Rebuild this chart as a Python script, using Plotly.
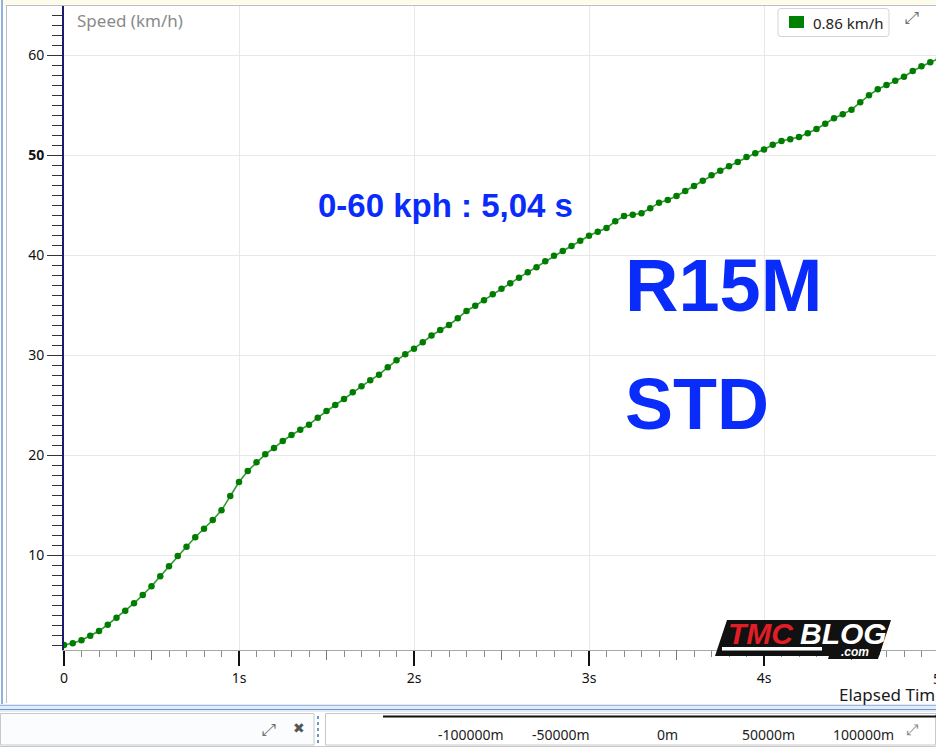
import plotly.graph_objects as go

# ---------------- data ----------------
time_s = [0.00, 0.05, 0.10, 0.15, 0.20, 0.25, 0.30, 0.35, 0.40, 0.45,
          0.50, 0.55, 0.60, 0.65, 0.70, 0.75, 0.80, 0.85, 0.90, 0.95,
          1.00, 1.05, 1.10, 1.15, 1.20, 1.25, 1.30, 1.35, 1.40, 1.45,
          1.50, 1.55, 1.60, 1.65, 1.70, 1.75, 1.80, 1.85, 1.90, 1.95,
          2.00, 2.05, 2.10, 2.15, 2.20, 2.25, 2.30, 2.35, 2.40, 2.45,
          2.50, 2.55, 2.60, 2.65, 2.70, 2.75, 2.80, 2.85, 2.90, 2.95,
          3.00, 3.05, 3.10, 3.15, 3.20, 3.25, 3.30, 3.35, 3.40, 3.45,
          3.50, 3.55, 3.60, 3.65, 3.70, 3.75, 3.80, 3.85, 3.90, 3.95,
          4.00, 4.05, 4.10, 4.15, 4.20, 4.25, 4.30, 4.35, 4.40, 4.45,
          4.50, 4.55, 4.60, 4.65, 4.70, 4.75, 4.80, 4.85, 4.90, 4.95,
          5.00]
speed_kmh = [1.00, 1.17, 1.47, 1.93, 2.40, 3.03, 3.73, 4.43, 5.17, 6.00,
             6.87, 7.87, 8.87, 9.90, 10.83, 11.77, 12.63, 13.50, 14.47, 15.90,
             17.30, 18.40, 19.27, 20.07, 20.70, 21.40, 22.00, 22.53, 23.03, 23.73,
             24.40, 25.00, 25.60, 26.27, 26.87, 27.47, 28.03, 28.77, 29.47, 30.07,
             30.63, 31.27, 31.95, 32.50, 33.00, 33.67, 34.40, 34.93, 35.47, 36.07,
             36.63, 37.17, 37.73, 38.27, 38.77, 39.37, 39.93, 40.40, 40.90, 41.43,
             41.92, 42.32, 42.70, 43.37, 43.90, 44.03, 44.17, 44.67, 45.23, 45.50,
             45.90, 46.40, 46.90, 47.43, 47.97, 48.43, 48.87, 49.30, 49.80, 50.17,
             50.55, 51.03, 51.40, 51.57, 51.80, 52.17, 52.60, 53.13, 53.67, 54.07,
             54.53, 55.27, 55.97, 56.57, 57.00, 57.43, 57.83, 58.40, 58.87, 59.27,
             59.65]

x_tickvals = [0, 1, 2, 3, 4]
x_ticktext = ["0", "1s", "2s", "3s", "4s"]
x_half_ticks = [0.5, 1.5, 2.5, 3.5, 4.5]
y_tickvals = [10, 20, 30, 40, 50, 60]
y_ticktext = ["10", "20", "30", "40", "<b>50</b>", "60"]
scale_labels = ["-100000m", "-50000m", "0m", "50000m", "100000m"]
legend_text = "0.86 km/h"
y_title = "Speed (km/h)"
x_title = "Elapsed Time"
note_text = "0-60 kph : 5,04 s"
model_text = "R15M"
variant_text = "STD"

# ---------------- layout helpers (pixel -> paper) ----------------
W, H = 936, 750
L, R, T, B = 64, 0, 5, 100
PW, PH = W - L - R, H - T - B


def px(x):
    return (x - L) / PW


def py(y):
    return (H - B - y) / PH


GREEN = "#008000"
BLUE = "#0a2cfb"

fig = go.Figure()
fig.add_trace(go.Scatter(
    x=time_s, y=speed_kmh, mode="lines+markers",
    line=dict(color="#2f9a2f", width=1.6),
    marker=dict(color="#007d00", size=6.5, symbol="circle"),
    showlegend=False, hoverinfo="skip", cliponaxis=True,
))

shapes = []
annos = []


def rect(x0, y0, x1, y1, fill=None, line=None, lw=1, layer="above"):
    shapes.append(dict(type="rect", xref="paper", yref="paper",
                       x0=px(x0), x1=px(x1), y0=py(y0), y1=py(y1),
                       fillcolor=fill or "rgba(0,0,0,0)",
                       line=dict(color=line or "rgba(0,0,0,0)", width=lw if line else 0),
                       layer=layer))


def hline(x0, x1, y, color, w=1, dash=None):
    shapes.append(dict(type="line", xref="paper", yref="paper",
                       x0=px(x0), x1=px(x1), y0=py(y), y1=py(y),
                       line=dict(color=color, width=w, dash=dash)))


def vline(x, y0, y1, color, w=1, dash=None):
    shapes.append(dict(type="line", xref="paper", yref="paper",
                       x0=px(x), x1=px(x), y0=py(y0), y1=py(y1),
                       line=dict(color=color, width=w, dash=dash)))


def poly(points, fill):
    path = "M " + " L ".join(f"{px(a):.5f},{py(b):.5f}" for a, b in points) + " Z"
    shapes.append(dict(type="path", xref="paper", yref="paper", path=path,
                       fillcolor=fill, line=dict(width=0), layer="above"))


def text(x, y, s, size, color, family="Noto Sans", xanchor="center", yanchor="middle"):
    annos.append(dict(xref="paper", yref="paper", x=px(x), y=py(y), text=s,
                      showarrow=False, xanchor=xanchor, yanchor=yanchor,
                      font=dict(size=size, color=color, family=family)))


# window chrome
rect(0, 0, 936, 4, fill="#fdfbea")
hline(6, 936, 5.5, "#bdbdbd", 1)
vline(6.5, 5, 703, "#bdbdbd", 1)
vline(2, 0, 705, "#8fb2df", 2)
rect(0, 704, 936, 712, fill="#e4ecf7")
hline(0, 936, 705.5, "#9ab8e0", 1)
hline(0, 936, 709.5, "#6e96cc", 1)
rect(0.5, 713.5, 314, 745, fill="#fbfcfd", line="#c8c8c8")
vline(318, 716, 744, "#6e96cc", 2, dash="dot")
rect(325.5, 713.5, 935.5, 745, fill="#ffffff", line="#c8c8c8")
hline(383, 936, 716.5, "#111111", 2)
hline(0, 936, 746.5, "#c8c8c8", 1)

# half-second ticks on x axis
for hv in x_half_ticks:
    shapes.append(dict(type="line", xref="x", yref="paper", x0=hv, x1=hv,
                       y0=0, y1=-10 / PH, line=dict(color="#777777", width=1)))

# legend box
shapes.append(dict(type="path", xref="paper", yref="paper",
                   path=(f"M {px(781):.5f},{py(8.5):.5f} L {px(886):.5f},{py(8.5):.5f} "
                         f"Q {px(889):.5f},{py(8.5):.5f} {px(889):.5f},{py(11.5):.5f} "
                         f"L {px(889):.5f},{py(33.5):.5f} Q {px(889):.5f},{py(36.5):.5f} {px(886):.5f},{py(36.5):.5f} "
                         f"L {px(781):.5f},{py(36.5):.5f} Q {px(778):.5f},{py(36.5):.5f} {px(778):.5f},{py(33.5):.5f} "
                         f"L {px(778):.5f},{py(11.5):.5f} Q {px(778):.5f},{py(8.5):.5f} {px(781):.5f},{py(8.5):.5f} Z"),
                   fillcolor="#ffffff", line=dict(color="#d4d4d4", width=1), layer="above"))
rect(789, 16, 804, 28, fill=GREEN)
text(811, 22.5, legend_text, 15, "#222222", xanchor="left")

# icons
text(912, 17, "⤢", 17, "#707070", family="DejaVu Sans")
text(269, 729, "⤢", 17, "#707070", family="DejaVu Sans")
text(299, 728, "✖", 14, "#555555", family="DejaVu Sans")
text(912, 730, "⤢", 15, "#8a8a8a", family="DejaVu Sans")

# scale bar labels
for lab, cx in zip(scale_labels, [471, 561, 667, 768, 863]):
    text(cx, 734, lab, 14, "#222222")

# axis titles / labels
text(75, 20, y_title, 17, "#8a8a8a", xanchor="left")
text(837, 694, x_title, 17, "#1a1a1a", xanchor="left")
text(937, 678, "5", 14, "#111111")

# blue overlay texts
text(445, 206, f"<b>{note_text}</b>", 33, BLUE, family="Liberation Sans")
text(623, 286, f"<b>{model_text}</b>", 74, BLUE, family="Liberation Sans", xanchor="left")
text(623, 404, f"<b>{variant_text}</b>", 72, BLUE, family="Liberation Sans", xanchor="left")

# logo
poly([(727, 620), (891, 620), (879, 656), (715, 656)], "#111111")
poly([(832, 646), (882, 646), (878, 659), (828, 659)], "#111111")
rect(722, 647, 822, 650.5, fill="#ffffff")
text(761, 633.5, "<b><i>TMC</i></b>", 30, "#e01e25", family="Liberation Sans")
text(843, 633.5, "<b><i>BLOG</i></b>", 30, "#ffffff", family="Liberation Sans")
text(855, 652, "<b><i>.com</i></b>", 12, "#ffffff", family="Liberation Sans")

fig.update_layout(
    width=W, height=H,
    margin=dict(l=L, r=R, t=T, b=B, pad=0),
    paper_bgcolor="#ffffff", plot_bgcolor="#ffffff",
    font=dict(family="Noto Sans", size=14, color="#111111"),
    showlegend=False,
    shapes=shapes, annotations=annos,
    xaxis=dict(
        range=[0, PW / 175], tickmode="array", tickvals=x_tickvals, ticktext=x_ticktext,
        showgrid=True, gridcolor="#e8e8e8", gridwidth=1, zeroline=False,
        showline=True, linecolor="#a8a8a8", linewidth=1,
        ticks="outside", ticklen=15, tickwidth=1.5, tickcolor="#111111",
        tickfont=dict(size=14, color="#111111"),
        minor=dict(tick0=0, dtick=0.1, ticks="outside", ticklen=6, tickwidth=1,
                   tickcolor="#8a8a8a", showgrid=False),
        fixedrange=True,
    ),
    yaxis=dict(
        range=[0.5, 65], tickmode="array", tickvals=y_tickvals, ticktext=y_ticktext,
        showgrid=True, gridcolor="#e8e8e8", gridwidth=1, zeroline=False,
        showline=True, linecolor="#1d1d70", linewidth=2,
        ticks="outside", ticklen=15, tickwidth=1, tickcolor="#333333",
        tickfont=dict(size=14, color="#111111"),
        minor=dict(tick0=0, dtick=1, ticks="outside", ticklen=10, tickwidth=1,
                   tickcolor="#333333", showgrid=False),
        fixedrange=True,
    ),
)

fig.write_html(
    "out.html",
    config={"displayModeBar": False, "staticPlot": True},
    post_script="document.body.style.margin='0px';document.body.style.overflow='hidden';",
)
